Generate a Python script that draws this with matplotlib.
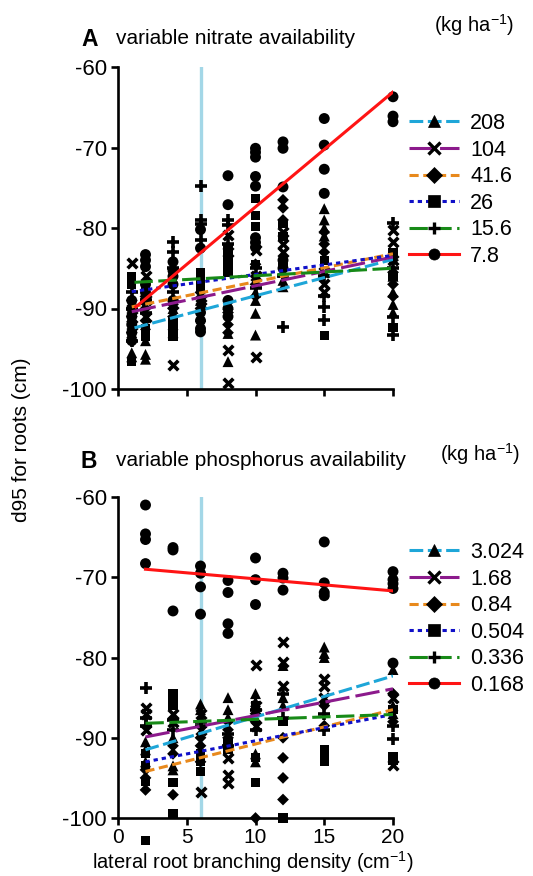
import matplotlib
matplotlib.use("Agg")
import matplotlib.pyplot as plt
from matplotlib.lines import Line2D

plt.rcParams['font.family'] = ['Liberation Sans', 'DejaVu Sans']
plt.rcParams['mathtext.default'] = 'regular'
plt.rcParams['axes.unicode_minus'] = False

# ---------------- data ----------------
series_labels_A = ['208', '104', '41.6', '26', '15.6', '7.8']
series_labels_B = ['3.024', '1.68', '0.84', '0.504', '0.336', '0.168']

xs_A = [1, 2, 4, 6, 8, 10, 12, 15, 20]
A_s1 = [[-91, -93, -95.5, -96], [-92, -94, -95.7, -96.3], [-90, -92, -93], [-89, -91],
        [-89.5, -93.1, -96.6], [-88, -89, -90.6, -93.3], [-85.5, -86.5, -87.3],
        [-77.6, -79, -80, -81], [-86, -88, -89.5, -90.5]]
A_s2 = [[-84.3, -90, -92], [-86, -89, -91], [-89.5, -97], [-88.9, -89.5],
        [-80.9, -83, -95.2, -99.3], [-82.7, -86, -96], [-80.5, -82, -83],
        [-85.5, -87, -88], [-80.2, -81.8, -84]]
A_s3 = [[-89, -91, -93], [-88.5, -90, -91.5], [-89.5, -90, -91], [-88, -90],
        [-90.5, -92, -93], [-84.5, -86, -87, -88.5], [-76.5, -77.5, -79],
        [-80.5, -82, -83], [-84, -85.5, -87, -88.5]]
A_s4 = [[-86, -87, -96.6], [-87.5, -92.5, -93.5], [-91.5, -92.5, -93.5], [-85.5, -86.5, -87.5],
        [-82.5, -83.5, -84.5, -85.5], [-76.3, -78.4, -79.8, -84.5], [-79.5, -81, -84.5],
        [-84, -93.3], [-83, -86, -92.3]]
A_s5 = [[-88, -90, -94], [-89, -90.5], [-81.8, -83, -85, -88], [-74.8, -79, -79.5, -81.5],
        [-79, -79.6, -82], [-85, -87.5], [-86, -92.3], [-86, -88.5, -89.8, -91.4],
        [-79.4, -85, -91, -93.3]]
A_s6 = [[-89, -90, -91, -92, -93, -94], [-83.3, -84, -84.8, -87, -88, -89],
        [-84.2, -85.3, -86, -87, -89], [-80.2, -82.5, -90.5, -91.5, -92.5, -92.9],
        [-73.5, -77.1, -89, -90, -91], [-70.1, -70.6, -71.2, -73.6, -74.8, -81.2, -81.8, -82.4],
        [-69.3, -70.1, -74.9, -84, -85], [-66.4, -69.7, -72.7, -75.7], [-63.7, -66.1, -66.8]]

xs_B = [2, 4, 6, 8, 10, 12, 15, 20]
B_s1 = [[-90.5, -91.5, -93], [-90, -93.5, -94], [-85.8, -86.5, -87.5], [-85, -86.5, -87.5],
        [-84.5, -85.5, -92, -93], [-81, -85, -86], [-78.7, -79.5, -80], [-81.5, -86, -87]]
B_s2 = [[-86.3, -87, -89], [-87, -88], [-87, -89, -96.7], [-92.5, -94.6, -95.7],
        [-80.9, -86, -88.5], [-78.1, -80.6, -83.5], [-82.7, -83.5, -85], [-85, -93.4]]
B_s3 = [[-94, -95, -96.5], [-91, -92, -97.1], [-90, -91, -93], [-88, -89, -90],
        [-87, -88, -100], [-90, -92.5, -95, -97.7], [-86, -88.5], [-84.5, -88]]
B_s4 = [[-92, -93.5, -95.5, -102.8], [-84.5, -85.2, -86, -95.6, -99.4], [-92, -93, -94.2],
        [-90.5, -91.5], [-86, -92.5, -95.6], [-88, -100], [-91.5, -92.3, -93],
        [-86.5, -92.3, -92.8]]
B_s5 = [[-83.8, -87.5, -88.5], [-87.8, -89], [-88, -88.5], [-89.5, -91], [-86.5, -89],
        [-84.5, -87.5], [-87, -89], [-88.5, -90.2]]
B_s6 = [[-61, -64.6, -65.3, -68.3], [-66.3, -66.6, -74.2], [-68.6, -69.5, -71.2, -74.6],
        [-70.4, -71.9, -75.8, -77.0], [-67.6, -70.3, -73.4], [-69.5, -70.1, -71.6],
        [-65.6, -70.7, -71.9, -72.3], [-69.3, -70.3, -70.8, -71.4, -80.7]]

# fitted regression lines (start x, start y, end x, end y)
A_fit_x0 = [1.2, 1.0, 1.0, 1.0, 1.2, 1.3]
A_fit_y0 = [-92.4, -90.4, -89.8, -87.9, -86.75, -89.8]
A_fit_x1 = [20, 20, 20, 20, 20, 20]
A_fit_y1 = [-83.9, -83.6, -83.2, -83.4, -85.0, -63.1]
B_fit_x0 = [2, 2, 2, 2, 2, 2]
B_fit_y0 = [-91.5, -89.9, -94.2, -93.0, -88.2, -69.0]
B_fit_x1 = [20, 20, 20, 20, 20, 20]
B_fit_y1 = [-82.3, -83.9, -86.5, -87.1, -87.1, -71.7]

ref_density = 6
x_ticks = [0, 5, 10, 15, 20]
y_ticks = [-100, -90, -80, -70, -60]

# ---------------- styles ----------------
colors = ['#1ea6d8', '#8c1a8c', '#e8891c', '#1010c8', '#178a17', '#ff1414']
dashes = [(0, (4.5, 1.5)), (0, (8, 2)), (0, (3, 1.5)), (0, (1.4, 1.3)), (0, (6, 1.8)), '-']
markers = ['^', 'x', 'D', 's', '+', 'o']
msizes = [62, 48, 36, 42, 70, 62]

fig = plt.figure(figsize=(5.33, 8.76), dpi=100)
W, H = 533, 876
axA = fig.add_axes([118 / W, 1 - 389 / H, 275 / W, 322 / H])
axB = fig.add_axes([118 / W, 1 - 818 / H, 275 / W, 321 / H])


def draw(ax, xs, sets, fx0, fy0, fx1, fy1):
    ax.axvline(ref_density, color='#a3d7e7', lw=2.4, zorder=1)
    for i, s in enumerate(sets):
        px, py = [], []
        for x, col in zip(xs, s):
            for v in col:
                px.append(x)
                py.append(v)
        m = markers[i]
        if m in ('x', '+'):
            ax.scatter(px, py, marker=m, s=msizes[i], color='k', linewidths=2.6,
                       zorder=2, clip_on=False)
        else:
            ax.scatter(px, py, marker=m, s=msizes[i], color='k', edgecolors='none',
                       zorder=2, clip_on=False)
    for i in range(len(sets)):
        ax.plot([fx0[i], fx1[i]], [fy0[i], fy1[i]], color=colors[i], ls=dashes[i],
                lw=2.2, zorder=3, dash_capstyle='butt')
    ax.set_xlim(0, 20)
    ax.set_ylim(-100, -60)
    ax.set_xticks(x_ticks)
    ax.set_yticks(y_ticks)
    for sp in ('top', 'right'):
        ax.spines[sp].set_visible(False)
    for sp in ('left', 'bottom'):
        ax.spines[sp].set_linewidth(1.9)
    ax.tick_params(direction='out', length=5, width=1.9, labelsize=16, pad=3)
    ax.tick_params(axis='x', labelsize=15, pad=2)


draw(axA, xs_A, [A_s1, A_s2, A_s3, A_s4, A_s5, A_s6], A_fit_x0, A_fit_y0, A_fit_x1, A_fit_y1)
draw(axB, xs_B, [B_s1, B_s2, B_s3, B_s4, B_s5, B_s6], B_fit_x0, B_fit_y0, B_fit_x1, B_fit_y1)
axA.tick_params(axis='x', labelbottom=False)


def legend(ax, labels, top_px):
    handles = []
    for i, lab in enumerate(labels):
        handles.append(Line2D([0], [0], color=colors[i], ls=dashes[i], lw=2.2,
                              marker=markers[i], markersize=8, markerfacecolor='k',
                              markeredgecolor='k',
                              markeredgewidth=2.4 if markers[i] in 'x+' else 0.5,
                              label=lab))
    ax.legend(handles=handles, loc='upper left', bbox_to_anchor=(409 / W, 1 - top_px / H),
              bbox_transform=fig.transFigure, frameon=False, fontsize=15.5,
              handlelength=2.3, handletextpad=0.55, labelspacing=0.26,
              borderaxespad=0, borderpad=0)


legend(axA, series_labels_A, 113)
legend(axB, series_labels_B, 542)

fig.text(81 / W, 1 - 46 / H, 'A', fontsize=16.5, fontweight='bold', va='baseline')
fig.text(116 / W, 1 - 44 / H, 'variable nitrate availability', fontsize=15, va='baseline')
fig.text(434 / W, 1 - 32 / H, '(kg ha$^{-1}$)', fontsize=14.5, va='baseline')
fig.text(81 / W, 1 - 468 / H, 'B', fontsize=16.5, fontweight='bold', va='baseline')
fig.text(116 / W, 1 - 466 / H, 'variable phosphorus availability', fontsize=15, va='baseline')
fig.text(440 / W, 1 - 461 / H, '(kg ha$^{-1}$)', fontsize=14.5, va='baseline')
fig.text(22 / W, 1 - 440 / H, 'd95 for roots (cm)', fontsize=15, rotation=90,
         ha='center', va='center')
fig.text(253 / W, 1 - 869 / H, 'lateral root branching density (cm$^{-1}$)', fontsize=14.5,
         ha='center', va='baseline')

fig.savefig('out.png', dpi=100)
